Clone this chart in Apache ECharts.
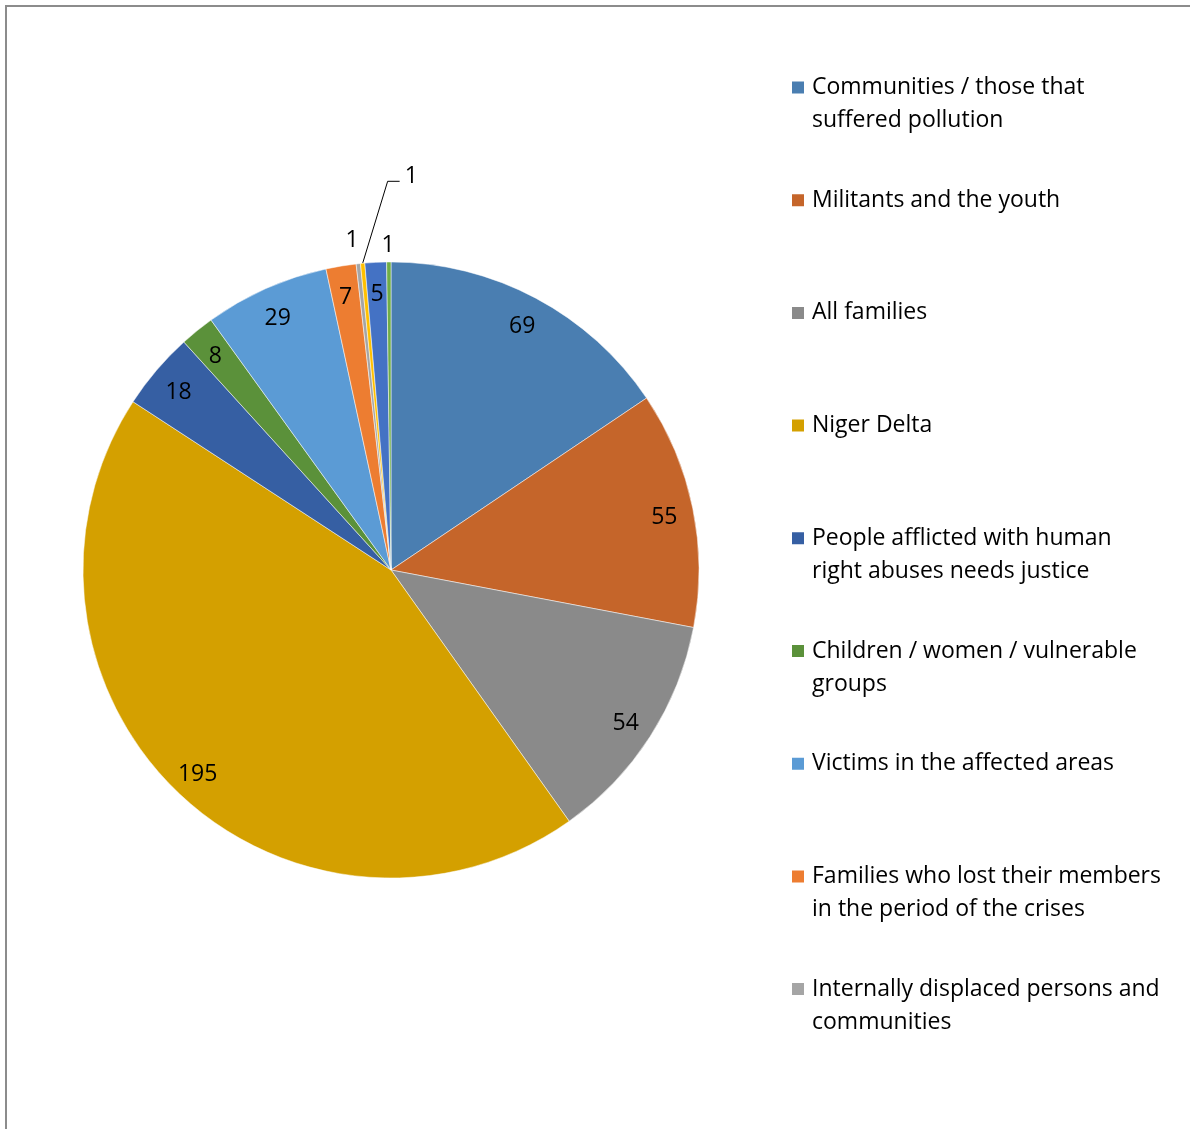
<!DOCTYPE html>
<html>
<head>
<meta charset="utf-8">
<script src="https://cdn.jsdelivr.net/npm/echarts@6/dist/echarts.min.js"></script>
<style>
html,body{margin:0;padding:0;background:#fff;}
#wrap{position:relative;width:1190px;height:1129px;overflow:hidden;}
#chart{position:absolute;left:0;top:0;width:1190px;height:1129px;}
#frame{position:absolute;left:5px;top:5px;width:1300px;height:1300px;border-top:2px solid #8c8c8c;border-left:2px solid #8c8c8c;pointer-events:none;}
</style>
</head>
<body>
<div id="wrap"><div id="chart"></div><div id="frame"></div></div>
<script>
const categories = [
  'Communities / those that\nsuffered pollution',
  'Militants and the youth',
  'All families',
  'Niger Delta',
  'People afflicted with human\nright abuses needs justice',
  'Children / women / vulnerable\ngroups',
  'Victims in the affected areas',
  'Families who lost their members\nin the period of the crises',
  'Internally displaced persons and\ncommunities',
  'Category 10',
  'Category 11',
  'Category 12'
];
const values = [69, 55, 54, 195, 18, 8, 29, 7, 1, 1, 5, 1];
const colors = ['#4a7eb1', '#c5652a', '#8a8a8a', '#d4a000', '#365fa3', '#5b913a',
                '#5b9bd5', '#ed7d31', '#a5a5a5', '#ffc000', '#4472c4', '#70ad47'];
const legendCount = 9;

const FONT = '"Open Sans", "Noto Sans", sans-serif';

const mainData = categories.map((n, i) => ({ name: n, value: values[i], itemStyle: { color: colors[i] } }));

const labelData = categories.map((n, i) => {
  const d = { name: n, value: values[i] };
  if (i === 8) {
    d.label = { position: 'outside', distanceToLabelLine: -3 };
    d.labelLine = { show: false, length: 26, length2: 0 };
  } else if (i === 11) {
    d.label = { position: 'outside', distanceToLabelLine: -6 };
    d.labelLine = { show: false, length: 20, length2: 0 };
  } else if (i === 9) {
    d.label = { position: 'outside', offset: [0, 0] };
    d.labelLine = { show: true, length: 20, length2: 10, lineStyle: { color: '#000', width: 1 } };
  }
  return d;
});

const chart = echarts.init(document.getElementById('chart'), null, { renderer: 'canvas' });
chart.setOption({
  animation: false,
  backgroundColor: '#fff',
  color: colors,
  legend: {
    orient: 'vertical',
    left: 790,
    top: 38,
    padding: 0,
    itemWidth: 14,
    itemHeight: 14,
    itemGap: 13.7,
    icon: 'rect',
    selectedMode: false,
    data: categories.slice(0, legendCount),
    formatter: n => {
      const parts = n.split('\n');
      return ' \n' + parts[0] + '\n' + (parts[1] || ' ');
    },
    textStyle: { fontFamily: FONT, fontSize: 23, lineHeight: 33, color: '#000', padding: [0, 0, 0, 2] }
  },
  series: [
    {
      type: 'pie',
      center: [391, 570],
      radius: 308,
      startAngle: 90,
      clockwise: true,
      avoidLabelOverlap: false,
      label: { show: false },
      labelLine: { show: false },
      emphasis: { scale: false },
      itemStyle: { borderColor: '#fff', borderWidth: 0.5 },
      data: mainData
    },
    {
      type: 'pie',
      center: [391, 570],
      radius: [244, 308],
      startAngle: 90,
      clockwise: true,
      silent: true,
      avoidLabelOverlap: false,
      itemStyle: { color: 'rgba(0,0,0,0)' },
      emphasis: { disabled: true },
      label: { show: true, position: 'inside', color: '#000', fontFamily: FONT, fontSize: 23, formatter: '{c}', offset: [0, 3] },
      labelLine: { show: false },
      labelLayout: function (p) {
        if (p.dataIndex !== 9 || !p.labelLinePoints) return {};
        const a = p.labelLinePoints[0];
        const b = [a[0] + 25, a[1] - 82];
        const c = [b[0] + 12, b[1]];
        return { x: c[0] + 5, y: c[1] - 5, align: 'left', verticalAlign: 'middle', labelLinePoints: [a, b, c] };
      },
      data: labelData
    }
  ]
});
</script>
</body>
</html>
